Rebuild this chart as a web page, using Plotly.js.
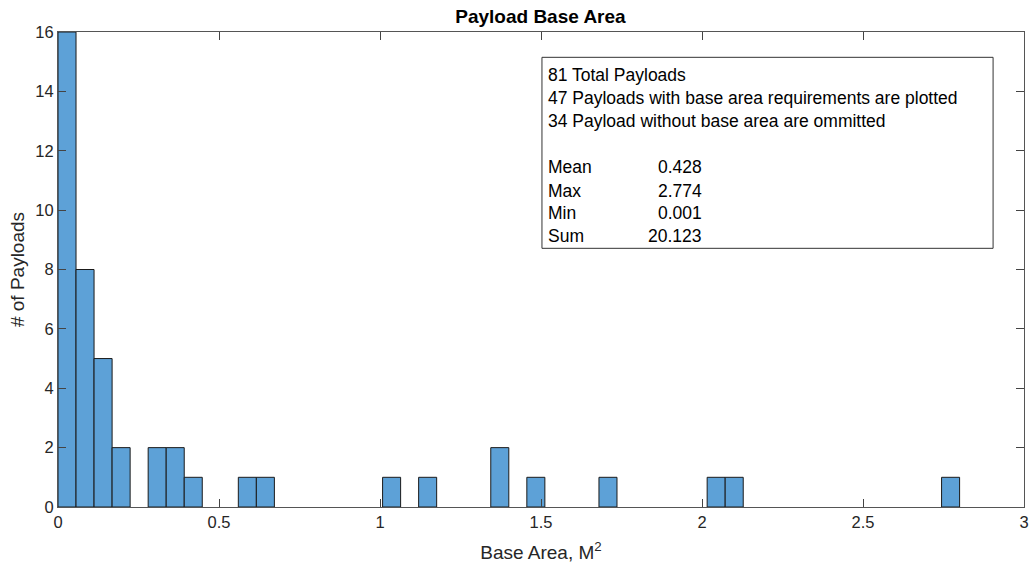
<!DOCTYPE html>
<html>
<head>
<meta charset="utf-8">
<script src="https://cdn.plot.ly/plotly-3.0.1.min.js"></script>
<style>html,body{margin:0;padding:0;background:#fff;}#chart{width:1032px;height:571px;}</style>
</head>
<body>
<div id="chart"></div>
<script>
// Histogram bins (left edges, M^2) that contain payloads, and their counts
var binLeftEdges = [0, 0.056, 0.112, 0.168, 0.28, 0.336, 0.392, 0.56, 0.616, 1.008, 1.12, 1.344, 1.456, 1.68, 2.016, 2.072, 2.744];
var binCounts    = [16, 8, 5, 2, 2, 2, 1, 1, 1, 1, 1, 2, 1, 1, 1, 1, 1];
var binWidth = 0.056;

var xTickVals = [0, 0.5, 1, 1.5, 2, 2.5, 3];
var xTickText = ['0', '0.5', '1', '1.5', '2', '2.5', '3'];
var yTickVals = [0, 2, 4, 6, 8, 10, 12, 14, 16];

var infoLines = ['81 Total Payloads', '47 Payloads with base area requirements are plotted', '34 Payload without base area are ommitted'];
var statLabels = ['Mean', 'Max', 'Min', 'Sum'];
var statValues = ['0.428', '2.774', '0.001', '20.123'];

var font = 'Liberation Sans, Arial, Helvetica, sans-serif';
var textCol = '#262626';

var trace = {
  type: 'bar',
  x: binLeftEdges,
  y: binCounts,
  width: binLeftEdges.map(function(){return binWidth;}),
  offset: 0,
  marker: {color: 'rgb(93,161,215)', line: {color: '#1a1a1a', width: 1}},
  hoverinfo: 'x+y'
};

var infoY = [0.9095, 0.8604, 0.8133];
var statY = [0.7152, 0.6659, 0.6183, 0.5712];
var annotations = [];
infoLines.forEach(function(t, i){
  annotations.push({xref:'paper', yref:'paper', x:0.5055, y:infoY[i], xanchor:'left', yanchor:'middle', text:t, showarrow:false, font:{family:font, size:17.5, color:'#000'}});
});
statLabels.forEach(function(t, i){
  annotations.push({xref:'paper', yref:'paper', x:0.5055, y:statY[i], xanchor:'left', yanchor:'middle', text:t, showarrow:false, font:{family:font, size:17.5, color:'#000'}});
  annotations.push({xref:'paper', yref:'paper', x:0.6685, y:statY[i], xanchor:'right', yanchor:'middle', text:statValues[i], showarrow:false, font:{family:font, size:17.5, color:'#000'}});
});

var layout = {
  width: 1032, height: 571,
  margin: {l: 58, r: 8, t: 32, b: 64, pad: 0},
  paper_bgcolor: '#fff', plot_bgcolor: '#fff',
  showlegend: false,
  bargap: 0,
  title: {text: '<b>Payload Base Area</b>', x: 0.5237, xanchor: 'center', y: 0.972, yanchor: 'middle', font: {family: font, size: 19, color: '#000'}},
  xaxis: {
    range: [0, 3], tickvals: xTickVals, ticktext: xTickText,
    ticks: 'inside', ticklen: 8, tickcolor: '#444', tickwidth: 1,
    showline: true, linecolor: '#555', linewidth: 1, mirror: 'ticks',
    showgrid: false, zeroline: false,
    tickfont: {family: font, size: 16.5, color: textCol},
    title: {text: 'Base Area, M<sup>2</sup>', font: {family: font, size: 19, color: textCol}, standoff: 15}
  },
  yaxis: {
    range: [0, 16], tickvals: yTickVals,
    ticks: 'inside', ticklen: 8, tickcolor: '#444', tickwidth: 1,
    showline: true, linecolor: '#555', linewidth: 1, mirror: 'ticks',
    showgrid: false, zeroline: false,
    tickfont: {family: font, size: 16.5, color: textCol},
    title: {text: '# of Payloads', font: {family: font, size: 19, color: textCol}, standoff: 5}
  },
  shapes: [{type: 'rect', xref: 'paper', yref: 'paper', x0: 0.501, x1: 0.968, y0: 0.5446, y1: 0.9467, line: {color: '#333', width: 1}, fillcolor: 'rgba(255,255,255,1)', layer: 'above'}],
  annotations: annotations
};

Plotly.newPlot('chart', [trace], layout, {displayModeBar: false, staticPlot: true});
</script>
</body>
</html>
